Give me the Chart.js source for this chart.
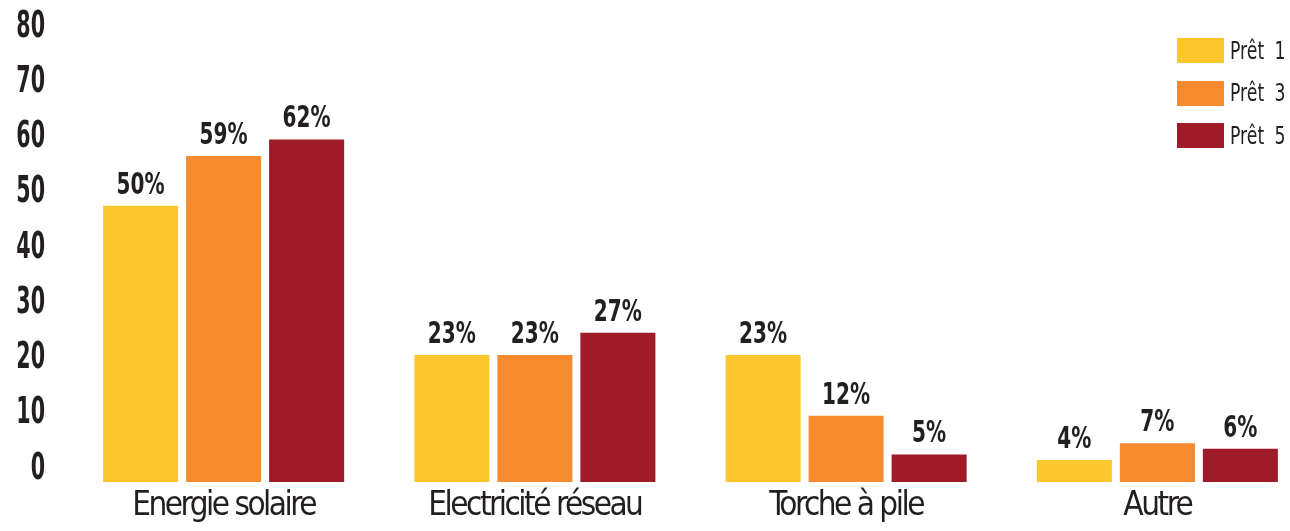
<!DOCTYPE html>
<html>
<head>
<meta charset="utf-8">
<script src="https://cdn.jsdelivr.net/npm/chart.js@4.4.0/dist/chart.umd.min.js"></script>
<style>
html,body{margin:0;padding:0;background:#fff;overflow:hidden;}
#zone{position:relative;width:1290px;height:531px;overflow:hidden;}
#grafico{position:absolute;left:0;top:0;}
#legende{position:absolute;left:1177px;top:38px;font-family:"DejaVu Sans Condensed","DejaVu Sans",sans-serif;font-size:24px;color:#231f20;white-space:nowrap;}
.fila{display:flex;align-items:center;height:25px;margin-bottom:17.5px;}
.caja{width:47px;height:25px;margin-right:6px;}
.fila span{display:inline-block;transform:scaleX(0.8);transform-origin:left center;word-spacing:6px;}
</style>
</head>
<body>
<div id="zone">
  <canvas id="grafico" width="1320" height="531"></canvas>
  <div id="legende"></div>
</div>
<script>
//donnees du graphique
const categories=['Energie solaire','Electricité réseau','Torche à pile','Autre'];
const series=['Prêt 1','Prêt 3','Prêt 5'];
const pret1=[50,23,23,4];
const pret3=[59,23,12,7];
const pret5=[62,27,5,6];
const ticksY=[0,10,20,30,40,50,60,70,80];

const couleurs=['#fdc82f','#f58a2e','#9e1b27'];
const police='"DejaVu Sans Condensed","DejaVu Sans",sans-serif';
const encre='#231f20';

//etiquettes au dessus des barres (texte resserre comme dans l'original)
const etiquettesBarres={
    id:'etiquettesBarres',
    afterDatasetsDraw(chart)
    {
        const ctx=chart.ctx;
        chart.data.datasets.forEach((ds,i)=>
        {
            chart.getDatasetMeta(i).data.forEach((barre,j)=>
            {
                ctx.save();
                ctx.translate(barre.x,barre.y-12);
                ctx.scale(0.72,1);
                ctx.font='bold 31px '+police;
                ctx.fillStyle=encre;
                ctx.textAlign='center';
                ctx.textBaseline='alphabetic';
                ctx.fillText(ds.data[j]+'%',0,0);
                ctx.restore();
            });
        });
    }
};

//resserre les chiffres de l'axe y et les libelles de l'axe x
const texteEtroit={
    id:'texteEtroit',
    beforeDraw(chart)
    {
        const ctx=chart.ctx;
        const sy=chart.scales.y;
        if(!sy._etroit)
        {
            const orig=sy.drawLabels.bind(sy);
            sy.drawLabels=function(area)
            {
                const bord=sy.right-sy.options.ticks.padding;
                ctx.save();
                ctx.translate(bord,0);
                ctx.scale(0.62,1);
                ctx.translate(-bord,0);
                orig(area);
                ctx.restore();
            };
            sy._etroit=true;
        }
        const sx=chart.scales.x;
        if(!sx._etroit)
        {
            const origX=sx.drawLabels.bind(sx);
            sx.drawLabels=function(area)
            {
                ctx.save();
                ctx.letterSpacing='-2.5px';
                origX(area);
                ctx.restore();
            };
            sx._etroit=true;
        }
    }
};

const valeurs=[pret1,pret3,pret5];

new Chart(document.getElementById('grafico'),{
    type:'bar',
    data:{
        labels:categories,
        datasets:series.map((nom,i)=>({
            label:nom,
            data:valeurs[i],
            backgroundColor:couleurs[i],
            categoryPercentage:0.8,
            barPercentage:0.904
        }))
    },
    options:{
        responsive:false,
        animation:false,
        layout:{padding:{top:40,right:7,left:0,bottom:0}},
        plugins:{legend:{display:false},tooltip:{enabled:false}},
        scales:{
            x:{
                grid:{display:false,drawTicks:false},
                border:{display:false},
                ticks:{color:encre,font:{family:police,size:33},padding:5},
                afterFit(scale){scale.height=49;scale.paddingLeft=0;scale.paddingRight=0;}
            },
            y:{
                min:0,max:80,
                grid:{display:false,drawTicks:false},
                border:{display:false},
                afterBuildTicks(scale){scale.ticks=ticksY.map(v=>({value:v}));},
                ticks:{color:encre,font:{family:police,size:37,weight:'bold'},padding:23,labelOffset:-13},
                afterFit(scale){scale.width=68;scale.paddingTop=0;scale.paddingBottom=0;}
            }
        }
    },
    plugins:[etiquettesBarres,texteEtroit]
});

//legende a droite
const legende=document.getElementById('legende');
series.forEach((nom,i)=>
{
    legende.innerHTML+=`<div class="fila"><div class="caja" style="background:${couleurs[i]}"></div><span>${nom}</span></div>`;
});
</script>
</body>
</html>
